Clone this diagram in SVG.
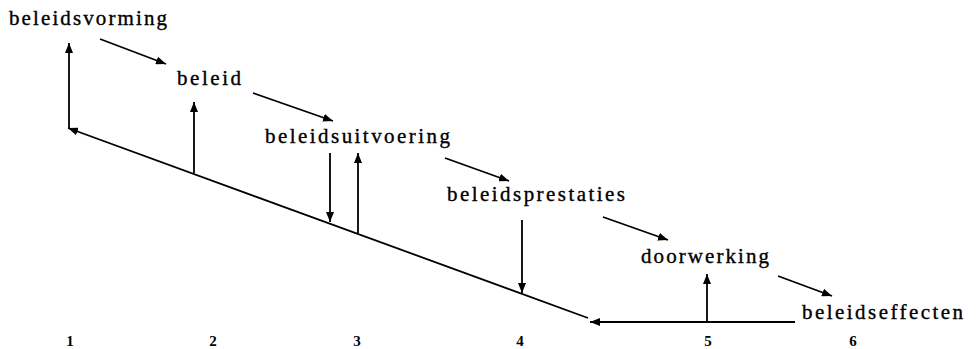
<svg xmlns="http://www.w3.org/2000/svg" width="977" height="349" viewBox="0 0 977 349">
<style>
.lbl{font-family:"Liberation Serif","Times New Roman",serif;font-size:21px;fill:#000;stroke:#000;stroke-width:0.35}
.num{font-family:"Liberation Serif","Times New Roman",serif;font-size:15px;font-weight:bold;fill:#000;text-anchor:middle}
.c{stroke:#000;stroke-width:1.8;fill:none;marker-end:url(#ah)}
</style>
<defs>
<marker id="ah" markerUnits="userSpaceOnUse" viewBox="0 0 10 8" refX="10" refY="4" markerWidth="10" markerHeight="8" orient="auto">
<path d="M0,0 L10,4 L0,8 Z" fill="#000"/>
</marker>
</defs>
<rect width="977" height="349" fill="#fff"/>
<g id="n1"><text class="lbl" x="9" y="25" textLength="158" lengthAdjust="spacing">beleidsvorming</text></g>
<g id="n2"><text class="lbl" x="177" y="85" textLength="64" lengthAdjust="spacing">beleid</text></g>
<g id="n3"><text class="lbl" x="265" y="143" textLength="185" lengthAdjust="spacing">beleidsuitvoering</text></g>
<g id="n4"><text class="lbl" x="447" y="201" textLength="178" lengthAdjust="spacing">beleidsprestaties</text></g>
<g id="n5"><text class="lbl" x="641" y="263" textLength="128" lengthAdjust="spacing">doorwerking</text></g>
<g id="n6"><text class="lbl" x="802" y="319" textLength="161" lengthAdjust="spacing">beleidseffecten</text></g>
<g id="axis">
<text class="num" x="70" y="346">1</text>
<text class="num" x="213" y="346">2</text>
<text class="num" x="357" y="346">3</text>
<text class="num" x="520" y="346">4</text>
<text class="num" x="708" y="346">5</text>
<text class="num" x="853" y="346">6</text>
</g>
<g id="connectors">
<line class="c" x1="100" y1="39" x2="166" y2="64"/>
<line class="c" x1="253" y1="93" x2="333" y2="121"/>
<line class="c" x1="445" y1="158" x2="509" y2="181"/>
<line class="c" x1="603" y1="217" x2="668" y2="240"/>
<line class="c" x1="778" y1="276" x2="832" y2="296"/>
<line class="c" x1="795" y1="322" x2="590" y2="322"/>
<line class="c" x1="588" y1="318" x2="68" y2="128"/>
<line class="c" x1="69" y1="128" x2="69" y2="43"/>
<line class="c" x1="194" y1="173" x2="194" y2="102"/>
<line class="c" x1="330" y1="153" x2="330" y2="222"/>
<line class="c" x1="358" y1="233" x2="358" y2="153"/>
<line class="c" x1="522" y1="220" x2="522" y2="293"/>
<line class="c" x1="707" y1="322" x2="707" y2="274"/>
</g>
</svg>
